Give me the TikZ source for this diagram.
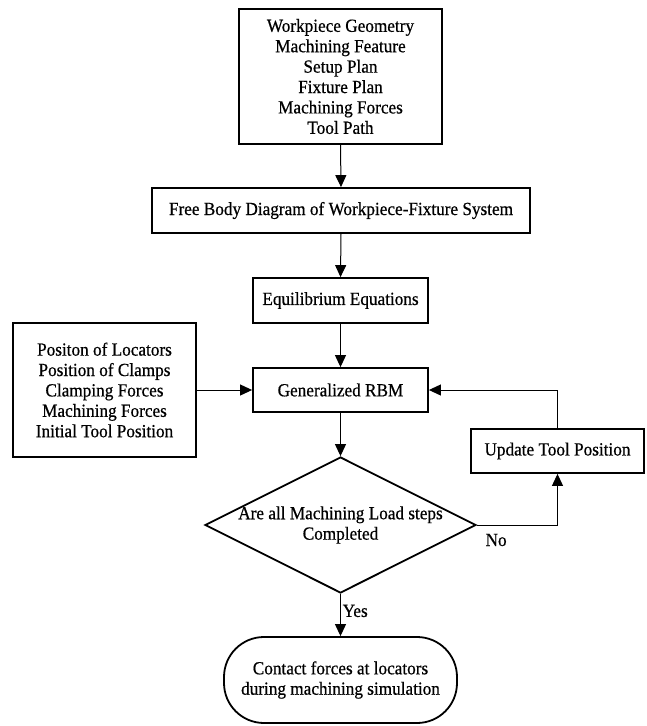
\documentclass[tikz,border=0pt]{standalone}
\usepackage{fontspec}
\setmainfont{Liberation Serif}[FakeStretch=0.93,FakeBold=0.6]
\usetikzlibrary{arrows.meta,shapes.geometric}
\begin{document}
\begin{tikzpicture}[x=1pt,y=-1pt,
  every node/.style={font=\fontsize{18.5}{20.4}\selectfont},
  box/.style={draw, line width=1.8pt, rectangle, inner sep=0pt, align=center},
  conn/.style={line width=1pt, -{Triangle[length=12pt,width=11pt]}},
  plain/.style={line width=1pt}
]
\useasboundingbox (0,0) rectangle (647,726);
\node[box, minimum width=203pt, minimum height=135pt] (top) at (340.5,76.5)
  {Workpiece Geometry\\Machining Feature\\Setup Plan\\Fixture Plan\\Machining Forces\\Tool Path};
\node[box, minimum width=378pt, minimum height=45pt] (fbd) at (341,210.5)
  {Free Body Diagram of Workpiece-Fixture System};
\node[box, minimum width=175pt, minimum height=45pt] (eq) at (340.5,300.5)
  {Equilibrium Equations};
\node[box, minimum width=183pt, minimum height=134pt] (inp) at (104.5,390)
  {Positon of Locators\\Position of Clamps\\Clamping Forces\\Machining Forces\\Initial Tool\ Position};
\node[box, minimum width=175pt, minimum height=44pt] (rbm) at (340.5,390)
  {Generalized RBM};
\node[box, minimum width=173pt, minimum height=44pt] (upd) at (557.5,451)
  {Update Tool\ Position};
\node[draw, diamond, line width=1.8pt, inner sep=0pt, minimum width=271pt, minimum height=136pt] (dec) at (340.5,525) {};
\node[align=center, inner sep=0pt] (dectext) at (dec.center) {Are all Machining Load steps\\Completed};
\node[draw, line width=1.8pt, rectangle, rounded corners=40pt, inner sep=0pt, align=center,
  minimum width=233pt, minimum height=86pt] (term) at (340.5,680)
  {Contact forces at locators\\during machining simulation};

\draw[conn] (top.south) -- (fbd.north);
\draw[conn] (fbd.south) -- (eq.north);
\draw[conn] (eq.south) -- (rbm.north);
\draw[conn] (inp.east) -- (rbm.west);
\draw[conn] (rbm.south) -- (dec.north);
\draw[conn] (dec.east) -| (upd.south);
\draw[conn] (upd.north) |- (rbm.east);
\draw[conn] (dec.south) -- (term.north);
\node[anchor=base west, inner sep=0pt] (no) at ([shift={(8.5,21)}]dec.east) {No};
\node[anchor=base west, inner sep=0pt] (yes) at ([shift={(2,23)}]dec.south) {Yes};
\end{tikzpicture}
\end{document}
